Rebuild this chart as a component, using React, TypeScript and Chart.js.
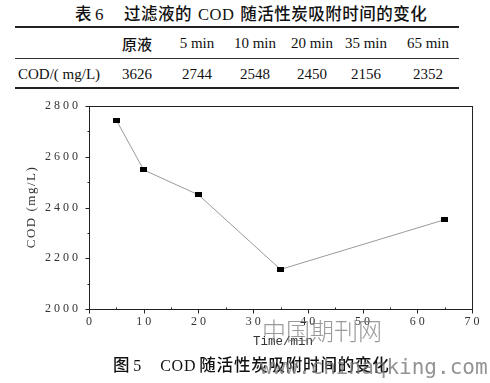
import React, { useEffect, useRef } from "react";
import { Chart, registerables } from "chart.js";

Chart.register(...registerables);

// Table data
const tableTitleNo = "6";
const tableRowLabel = "COD/( mg/L)";
const tableHeaders = ["原液", "5 min", "10 min", "20 min", "35 min", "65 min"];
const tableValues = ["3626", "2744", "2548", "2450", "2156", "2352"];

// Chart data
const times = [5, 10, 20, 35, 65];
const codValues = [2744, 2548, 2450, 2156, 2352];
const xTicks = [0, 10, 20, 30, 40, 50, 60, 70];
const xMinorTicks = [5, 15, 25, 35, 45, 55, 65];
const yTicks = [2000, 2200, 2400, 2600, 2800];
const yMinorTicks = [2100, 2300, 2500, 2700];
const xTitle = "Time/min";
const yTitle = "COD (mg/L)";
const captionNo = "5";
const captionText = "随活性炭吸附时间的变化";
const watermark1 = "中国期刊网";
const watermark2 = "www.chinaqking.com";

const colCenters = [137, 197, 255, 312, 366, 428];

const serif = '"Liberation Serif", "Noto Sans CJK SC", serif';
const cjk = '"Noto Sans CJK SC", "Liberation Serif", sans-serif';

function Cell(props: { x: number; y: number; children: any; style?: any }) {
  return (
    <div
      style={{
        position: "absolute",
        left: props.x,
        top: props.y,
        transform: "translate(-50%, -50%)",
        whiteSpace: "nowrap",
        lineHeight: 1,
        ...(props.style || {}),
      }}
    >
      {props.children}
    </div>
  );
}

export default function App() {
  const canvasRef = useRef<HTMLCanvasElement | null>(null);

  useEffect(() => {
    const canvas = canvasRef.current;
    if (!canvas) return;
    const pt = document.createElement("canvas");
    pt.width = 7;
    pt.height = 5;
    const pctx = pt.getContext("2d")!;
    pctx.fillStyle = "#000";
    pctx.fillRect(0, 0, 7, 5);

    const axesPlugin = {
      id: "axesPlugin",
      afterDraw(chart: any) {
        const ctx = chart.ctx;
        const area = chart.chartArea;
        const xs = chart.scales.x;
        const ys = chart.scales.y;
        ctx.save();
        ctx.strokeStyle = "#222";
        ctx.lineWidth = 1;
        ctx.strokeRect(
          Math.round(area.left) + 0.5,
          Math.round(area.top) + 0.5,
          Math.round(area.right - area.left),
          Math.round(area.bottom - area.top)
        );
        const bottom = Math.round(area.bottom) + 0.5;
        const left = Math.round(area.left) + 0.5;
        ctx.beginPath();
        xTicks.forEach((v) => {
          const px = Math.round(xs.getPixelForValue(v)) + 0.5;
          ctx.moveTo(px, bottom);
          ctx.lineTo(px, bottom + 4);
        });
        xMinorTicks.forEach((v) => {
          const px = Math.round(xs.getPixelForValue(v)) + 0.5;
          ctx.moveTo(px, bottom);
          ctx.lineTo(px, bottom - 2);
        });
        yTicks.forEach((v) => {
          const py = Math.round(ys.getPixelForValue(v)) + 0.5;
          ctx.moveTo(left, py);
          ctx.lineTo(left - 4, py);
        });
        yMinorTicks.forEach((v) => {
          const py = Math.round(ys.getPixelForValue(v)) + 0.5;
          ctx.moveTo(left, py);
          ctx.lineTo(left - 2, py);
        });
        ctx.stroke();

        ctx.fillStyle = "#333";
        ctx.font = '12px "Liberation Serif"';
        (ctx as any).letterSpacing = "3px";
        ctx.textBaseline = "middle";
        ctx.textAlign = "right";
        yTicks.forEach((v) => {
          ctx.fillText(String(v), area.left - 8, ys.getPixelForValue(v));
        });
        ctx.textAlign = "center";
        xTicks.forEach((v) => {
          ctx.fillText(String(v), xs.getPixelForValue(v) + 1.5, area.bottom + 13);
        });

        ctx.save();
        ctx.translate(32, 112);
        ctx.rotate(-Math.PI / 2);
        ctx.font = '13px "Liberation Serif"';
        (ctx as any).letterSpacing = "1.5px";
        ctx.textAlign = "center";
        ctx.fillText(yTitle, 0, 0);
        ctx.restore();

        (ctx as any).letterSpacing = "0px";
        ctx.font = '12.5px "Liberation Mono"';
        ctx.textAlign = "center";
        ctx.fillText(xTitle, 283, area.bottom + 33);
        ctx.restore();
      },
    };

    const chart = new Chart(canvas, {
      type: "line",
      data: {
        datasets: [
          {
            data: times.map((t, i) => ({ x: t, y: codValues[i] })),
            borderColor: "#9a9a9a",
            borderWidth: 1,
            pointStyle: pt as any,
            pointRadius: 4,
            pointHoverRadius: 4,
            tension: 0,
            fill: false,
          },
        ],
      },
      options: {
        animation: false,
        responsive: false,
        maintainAspectRatio: false,
        devicePixelRatio: 1,
        events: [],
        layout: { padding: { top: 11, right: 18, left: 0, bottom: 0 } },
        plugins: { legend: { display: false }, tooltip: { enabled: false } },
        scales: {
          x: {
            type: "linear",
            min: 0,
            max: 70,
            grid: { display: false },
            border: { display: false },
            ticks: { display: false },
            afterFit: (s: any) => {
              s.height = 46;
            },
          },
          y: {
            type: "linear",
            min: 2000,
            max: 2800,
            grid: { display: false },
            border: { display: false },
            ticks: { display: false },
            afterFit: (s: any) => {
              s.width = 89;
            },
          },
        },
      },
      plugins: [axesPlugin],
    } as any);
    return () => chart.destroy();
  }, []);

  return (
    <div
      style={{
        position: "absolute",
        left: 0,
        top: 0,
        width: 490,
        height: 383,
        background: "#fff",
        overflow: "hidden",
        color: "#111",
      }}
    >
      {/* table title */}
      <div
        style={{
          position: "absolute",
          left: 75,
          top: 14,
          transform: "translateY(-50%)",
          whiteSpace: "nowrap",
          lineHeight: 1,
          fontFamily: cjk,
          fontSize: 16.5,
          fontWeight: 500,
          letterSpacing: 0.5,
        }}
      >
        <span>表</span>
        <span style={{ fontFamily: serif, fontWeight: 400, fontSize: 17, marginLeft: 3 }}>{tableTitleNo}</span>
        <span style={{ marginLeft: 20 }}>过滤液的</span>
        <span style={{ fontFamily: serif, fontWeight: 400, margin: "0 6px" }}>COD</span>
        <span>随活性炭吸附时间的变化</span>
      </div>
      {/* rules */}
      <div style={{ position: "absolute", left: 15, top: 26, width: 444, height: 2, background: "#222" }} />
      <div style={{ position: "absolute", left: 15, top: 58, width: 444, height: 1, background: "#333" }} />
      <div style={{ position: "absolute", left: 15, top: 87, width: 444, height: 2, background: "#222" }} />
      {/* header row */}
      {tableHeaders.map((h, i) => (
        <Cell
          key={"h" + i}
          x={colCenters[i]}
          y={43}
          style={
            i === 0
              ? { fontFamily: cjk, fontSize: 15, fontWeight: 500 }
              : { fontFamily: serif, fontSize: 15 }
          }
        >
          {h}
        </Cell>
      ))}
      <div
        style={{
          position: "absolute",
          left: 18,
          top: 74,
          transform: "translateY(-50%)",
          whiteSpace: "nowrap",
          lineHeight: 1,
          fontFamily: serif,
          fontSize: 15,
        }}
      >
        {tableRowLabel}
      </div>
      {tableValues.map((v, i) => (
        <Cell key={"v" + i} x={colCenters[i]} y={74} style={{ fontFamily: serif, fontSize: 15 }}>
          {v}
        </Cell>
      ))}
      {/* chart */}
      <canvas
        ref={canvasRef}
        width={490}
        height={260}
        style={{ position: "absolute", left: 0, top: 95, width: 490, height: 260 }}
      />
      {/* caption */}
      <div
        style={{
          position: "absolute",
          left: 113,
          top: 365,
          transform: "translateY(-50%)",
          whiteSpace: "nowrap",
          lineHeight: 1,
          fontFamily: cjk,
          fontSize: 16.5,
          fontWeight: 500,
          letterSpacing: 0.8,
        }}
      >
        <span>图</span>
        <span style={{ fontFamily: serif, fontWeight: 400, fontSize: 16, marginLeft: 3 }}>{captionNo}</span>
        <span style={{ fontFamily: serif, fontWeight: 400, fontSize: 16, marginLeft: 18, marginRight: 3 }}>COD</span>
        <span>{captionText}</span>
      </div>
      {/* watermarks */}
      <Cell x={322} y={330} style={{ fontFamily: cjk, fontSize: 24, fontWeight: 300, color: "rgba(120,120,120,0.75)" }}>
        {watermark1}
      </Cell>
      <div
        style={{
          position: "absolute",
          left: 260,
          top: 367,
          transform: "translateY(-50%)",
          whiteSpace: "nowrap",
          lineHeight: 1,
          fontFamily: '"DejaVu Sans Mono", monospace',
          fontSize: 21,
          color: "rgba(120,120,120,0.8)",
        }}
      >
        {watermark2}
      </div>
    </div>
  );
}
